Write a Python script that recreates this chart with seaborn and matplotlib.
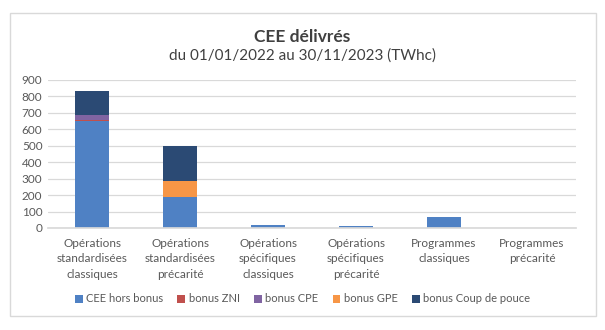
import matplotlib
matplotlib.use("Agg")
import matplotlib.pyplot as plt
import seaborn as sns
import pandas as pd
import numpy as np
from matplotlib.patches import Rectangle

categories = ["Opérations\nstandardisées\nclassiques", "Opérations\nstandardisées\nprécarité",
              "Opérations\nspécifiques\nclassiques", "Opérations\nspécifiques\nprécarité",
              "Programmes\nclassiques", "Programmes\nprécarité"]
series = ["CEE hors bonus", "bonus ZNI", "bonus CPE", "bonus GPE", "bonus Coup de pouce"]
cee_hors_bonus = [650, 186, 16, 12, 69, 1]
bonus_zni = [5, 0, 0, 0, 0, 0]
bonus_cpe = [35, 0, 0, 0, 0, 0]
bonus_gpe = [0, 97, 0, 0, 0, 0]
bonus_cdp = [145, 218, 0, 0, 0, 0]
colors = ["#4F81C4", "#C0504D", "#8064A2", "#F79646", "#2B4A74"]
yticks = list(range(0, 901, 100))

sns.set_theme(style="white")
plt.rcParams['font.family'] = ['Lato', 'DejaVu Sans']

fig = plt.figure(figsize=(6.05, 3.3), dpi=100)
ax = fig.add_axes([48/605, 1-228/330, (576-48)/605, 148/330])

values = [cee_hors_bonus, bonus_zni, bonus_cpe, bonus_gpe, bonus_cdp]
bottom = np.zeros(len(categories))
for name, vals, col in zip(series, values, colors):
    df = pd.DataFrame({"cat": categories, "val": vals})
    sns.barplot(data=df, x="cat", y="val", ax=ax, color=col, width=0.39,
                bottom=bottom.copy(), label=name, saturation=1, linewidth=0)
    bottom = bottom + np.array(vals)

handles, labels = ax.get_legend_handles_labels()
if ax.get_legend() is not None:
    ax.get_legend().remove()

ax.set_ylim(0, 900)
ax.set_xlim(-0.5, 5.5)
ax.set_yticks(yticks)
ax.yaxis.grid(True, color="#D9D9D9", linewidth=0.9)
ax.set_axisbelow(True)
for s in ["top", "right", "left"]:
    ax.spines[s].set_visible(False)
ax.spines["bottom"].set_color("#D9D9D9")
ax.set_xlabel("")
ax.set_ylabel("")
ax.tick_params(axis="both", length=0, labelsize=8.5, colors="#595959", pad=4)
ax.tick_params(axis="x", pad=7)
for t in ax.get_xticklabels():
    t.set_linespacing(1.5)

fig.text(0.5, 1-37/330, "CEE délivrés", ha="center", va="center",
         fontsize=12.5, fontweight="bold", color="#404040")
fig.text(0.5, 1-56/330, "du 01/01/2022 au 30/11/2023 (TWhc)", ha="center", va="center",
         fontsize=11, color="#404040")

fig.legend(handles, labels, loc="center", bbox_to_anchor=(0.5, 1-299/330), ncol=5,
           frameon=False, fontsize=8, handlelength=0.7, handleheight=0.7,
           handletextpad=0.3, columnspacing=1.3, labelcolor="#595959")

fig.patches.append(Rectangle((10/605, 1-316/330), 586/605, 303/330, transform=fig.transFigure,
                             fill=False, edgecolor="#D9D9D9", linewidth=1))

fig.savefig("out.png", dpi=100, facecolor="white")
